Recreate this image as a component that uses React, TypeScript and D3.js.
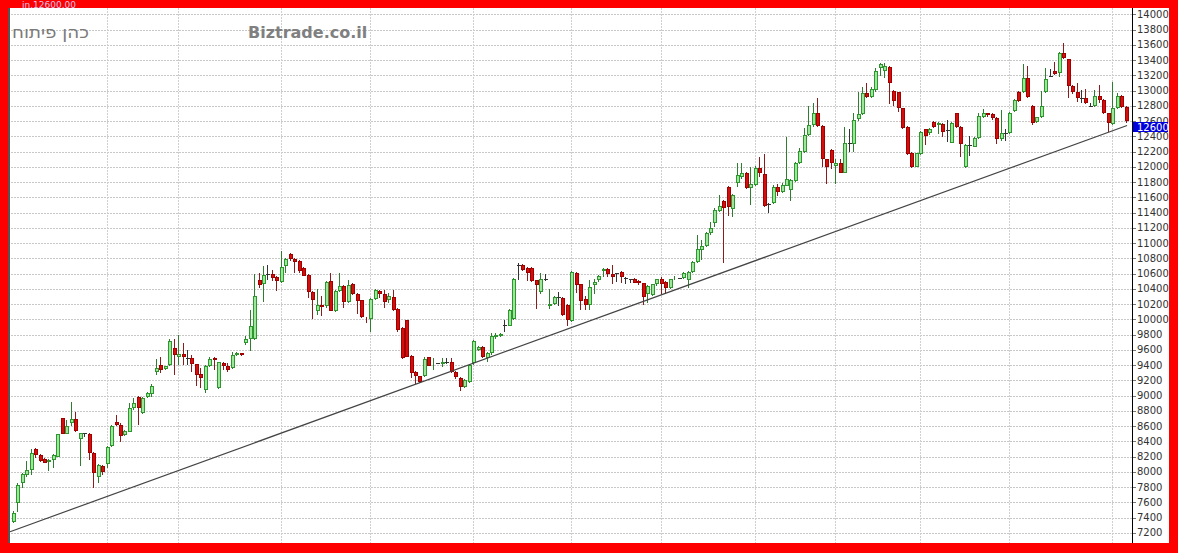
import React from 'react';
import * as d3 from 'd3';

// OHLC values (one candle per trading day)
const openP = [7346,7595,7849,7959,8024,8300,8221,8169,8134,8156,8199,8703,8497,8637,8694,8427,8506,8497,8252,7937,8081,8103,8339,8659,8615,8484,8528,8834,8987,8768,8978,9022,9315,9403,9354,9403,9622,9512,9543,9490,9490,9411,9280,9075,9381,9490,9096,9433,9394,9359,9530,9556,9687,9740,9740,10510,10466,10584,10597,10554,10484,10694,10856,10790,10760,10672,10584,10352,10103,10190,10169,10506,10103,10365,10440,10225,10462,10335,10247,10020,10002,10265,10374,10330,10256,10291,10134,9884,9985,9521,9315,9250,9250,9503,9416,9425,9416,9438,9446,9315,9228,9110,9184,9425,9600,9643,9490,9556,9766,9784,9920,9915,10002,10703,10716,10672,10672,10510,10352,10527,10177,10204,10291,10278,10190,9972,10606,10461,10260,10185,10448,10513,10636,10657,10600,10600,10622,10535,10535,10535,10500,10470,10338,10316,10461,10522,10491,10404,10526,10535,10548,10513,10622,10753,10906,10959,11133,11265,11423,11554,11738,11441,11791,11861,11922,11716,11760,11979,11900,11498,11519,11738,11673,11751,11695,11817,12045,12198,12417,12548,12701,12535,12097,12220,12010,12045,11922,12307,12298,12622,12692,12972,12919,13002,13291,13261,13313,12998,12976,12766,12526,12184,12001,12167,12490,12438,12591,12547,12560,12482,12315,12700,12525,11992,12280,12263,12372,12648,12700,12691,12635,12359,12446,12438,12735,12985,12985,13160,12797,12591,12648,12985,13182,13261,13234,13497,13409,13059,12985,12906,12906,12797,12797,12928,12876,12700,12560,12766,12928,12788];
const highP = [7490,7858,7980,8147,8296,8309,8230,8177,8165,8234,8497,8711,8681,8917,8790,8515,8510,8506,8265,8103,8090,8344,8611,8751,8637,8549,8900,8965,8996,8978,9053,9149,9482,9503,9394,9744,9744,9797,9687,9600,9534,9416,9359,9403,9503,9512,9446,9446,9425,9565,9565,9560,9775,10125,10597,10606,10694,10716,10641,10571,10891,10803,10869,10803,10772,10685,10593,10365,10396,10300,10497,10606,10387,10606,10453,10510,10475,10344,10256,10028,10278,10396,10387,10387,10344,10387,10147,9897,9994,9530,9324,9258,9503,9512,9490,9430,9490,9490,9490,9324,9241,9215,9416,9731,9652,9652,9565,9818,9818,9818,9985,10138,10541,10738,10729,10685,10685,10519,10606,10593,10396,10309,10352,10291,10204,10628,10615,10469,10304,10513,10535,10578,10679,10675,10710,10609,10631,10552,10535,10543,10513,10478,10448,10469,10535,10557,10500,10530,10565,10548,10622,10636,10762,11103,11037,11146,11278,11454,11629,11563,11747,11642,12053,12045,11931,12001,12010,12132,12167,11528,11760,11773,11782,12395,11834,12066,12242,12504,12797,12841,12898,12548,12106,12229,12097,12097,12526,12491,12710,12985,13050,13094,13050,13291,13357,13357,13322,13007,12985,12775,12534,12193,12184,12469,12499,12508,12600,12591,12569,12613,12587,12709,12534,12294,12403,12385,12700,12753,12709,12700,12648,12744,12490,12722,12884,12993,13348,13322,12810,12657,12998,13291,13278,13379,13510,13619,13418,13072,13094,13007,13015,12841,13007,13072,12884,12709,13116,12972,12941,12797];
const lowP = [7333,7477,7784,7928,7959,8177,8134,8112,8011,8046,8190,8493,8493,8606,8528,8081,8462,8156,7784,7858,7959,8055,8331,8602,8396,8471,8519,8812,8615,8760,8965,8987,9271,9302,9337,9381,9271,9403,9403,9403,9315,9131,9096,9031,9372,9337,9088,9337,9315,9350,9521,9525,9665,9586,9731,10409,10221,10519,10497,10365,10475,10606,10760,10606,10606,10562,10278,10002,10059,10046,10147,10103,10094,10357,10147,10212,10322,10072,10015,9950,9840,10256,10278,10147,10212,10103,9840,9477,9503,9228,9153,9162,9241,9381,9337,9410,9372,9416,9302,9215,9066,9096,9162,9403,9578,9490,9442,9534,9740,9766,9840,9906,9994,10510,10628,10497,10484,10134,10335,10497,10134,10190,10169,10046,9906,9959,10344,10119,10120,10128,10338,10491,10557,10557,10461,10491,10470,10461,10470,10470,10448,10185,10216,10303,10435,10338,10338,10391,10513,10522,10522,10404,10609,10740,10775,10950,11111,11216,11410,10733,11353,11336,11729,11834,11703,11497,11747,11870,11476,11397,11511,11616,11660,11742,11554,11804,12036,12185,12404,12526,12517,11992,11773,11966,11773,11913,11913,12198,12198,12604,12679,12897,12897,12985,13190,13160,12823,12797,12722,12490,12158,11983,11992,12158,12285,12416,12504,12429,12385,12320,12307,12504,12132,11983,12141,12254,12359,12635,12648,12613,12298,12342,12342,12429,12722,12854,12972,12897,12547,12569,12635,12972,13173,13204,13173,13409,12898,12954,12854,12832,12823,12779,12779,12841,12691,12460,12547,12753,12775,12578];
const closeP = [7464,7827,7967,8024,8243,8221,8147,8121,8156,8221,8493,8497,8602,8694,8541,8506,8493,8252,7980,8086,7994,8331,8602,8611,8471,8536,8834,8908,8834,8970,9031,9131,9359,9337,9381,9709,9534,9543,9503,9482,9416,9271,9228,9394,9481,9468,9438,9390,9337,9534,9556,9530,9744,9906,10300,10453,10584,10597,10540,10497,10685,10794,10794,10746,10628,10571,10352,10256,10190,10160,10484,10112,10374,10440,10225,10453,10335,10243,10024,10002,10265,10378,10330,10221,10300,10125,9862,9490,9512,9302,9250,9184,9477,9390,9433,9420,9446,9442,9315,9241,9118,9206,9403,9718,9635,9503,9556,9775,9797,9805,9906,10125,10527,10716,10650,10606,10497,10453,10527,10519,10204,10291,10296,10059,9994,10615,10453,10242,10185,10426,10491,10565,10657,10600,10557,10609,10557,10543,10530,10482,10470,10294,10435,10461,10526,10461,10404,10522,10548,10540,10609,10622,10753,10928,10963,11133,11203,11432,11484,11454,11476,11629,11891,11922,11716,11769,11979,11913,11484,11511,11738,11673,11760,11839,11826,12053,12206,12417,12548,12701,12535,12097,11992,12045,12053,11922,12307,12315,12613,12688,12963,12910,13015,13253,13348,13322,13103,12867,12766,12504,12167,11992,12176,12460,12403,12490,12517,12569,12460,12473,12578,12517,12298,12285,12272,12372,12665,12700,12683,12635,12359,12446,12438,12709,12875,12867,13160,12910,12578,12648,12797,13147,13190,13217,13497,13422,13059,12985,12898,12898,12832,12788,12928,12876,12709,12569,12766,12928,12788,12600];

const yTicks = d3.range(7200, 14001, 200);
const monthGridIdx = [21, 37, 60, 80, 103, 125, 145, 166, 184, 203, 223, 246];
const trendStart = { i: -0.6, v: 7214 };
const trendEnd = { i: 249.3, v: 12542 };
const lastPrice = 12600;
const titleHe = 'כהן פיתוח';
const siteName = 'Biztrade.co.il';
const topInfo = 'in.12600.00';

export default function App() {
  const W = 1178, H = 553;
  const n = openP.length;
  const x = d3.scaleLinear().domain([0, n - 1]).range([12.7, 1125.7]);
  const y = d3.scaleLinear().domain([7200, 14000]).range([532.8, 14.3]);
  const plotL = 8, plotR = 1132, plotT = 8, plotB = 543;
  const trendLine = d3.line<{ i: number; v: number }>().x(d => x(d.i)).y(d => y(d.v));

  const candles = d3.range(n).map(i => {
    const o = openP[i], c = closeP[i], h = highP[i], l = lowP[i];
    const cx = Math.round(x(i));
    const doji = Math.abs(c - o) < 15;
    const up = c >= o;
    const wickCol = doji ? '#333' : up ? '#2f7d2f' : '#8a1c1c';
    const top = Math.round(y(Math.max(o, c)));
    const bot = Math.max(top + 1, Math.round(y(Math.min(o, c))));
    return (
      <g key={i}>
        <line x1={cx + 0.5} x2={cx + 0.5} y1={Math.round(y(h))} y2={Math.round(y(l))} stroke={wickCol} strokeWidth={1} />
        {doji ? (
          <line x1={cx - 1} x2={cx + 3} y1={top + 0.5} y2={top + 0.5} stroke="#333" strokeWidth={1} />
        ) : (
          <rect x={cx - 0.5} y={top + 0.5} width={3} height={Math.max(0, bot - top - 1)}
            fill={up ? '#9be89b' : '#d40d0d'} stroke={up ? '#2f962f' : '#a00000'} strokeWidth={1} />
        )}
      </g>
    );
  });

  const ly = Math.round(y(lastPrice));

  return (
    <svg width={W} height={H} style={{ position: 'absolute', left: 0, top: 0 }} shapeRendering="crispEdges">
      <rect x={0} y={0} width={W} height={H} fill="#ff0000" />
      <rect x={plotL} y={plotT} width={1169 - plotL} height={plotB - plotT} fill="#ffffff" />
      {yTicks.map(t => (
        <line key={'h' + t} x1={plotL} x2={plotR} y1={Math.round(y(t)) + 0.5} y2={Math.round(y(t)) + 0.5}
          stroke="#c8c8c8" strokeDasharray="2,1" strokeWidth={1} />
      ))}
      {monthGridIdx.map(i => (
        <line key={'v' + i} x1={Math.round(x(i)) + 0.5} x2={Math.round(x(i)) + 0.5} y1={plotT} y2={plotB}
          stroke="#d0d0d0" strokeDasharray="2,1" strokeWidth={1} />
      ))}
      <line x1={plotL + 1} x2={plotL + 1} y1={plotT} y2={plotB} stroke="#555" strokeWidth={2} />
      <text x={22} y={8} fontFamily="DejaVu Sans" fontSize={9} fill="#d6c2e6">{topInfo}</text>
      <text x={12} y={38} fontFamily="DejaVu Sans" fontSize={17} fill="#7a7a7a"
        textLength={77} lengthAdjust="spacingAndGlyphs">{titleHe}</text>
      <text x={248} y={38} fontFamily="DejaVu Sans" fontWeight="bold" fontSize={16} fill="#808080">{siteName}</text>
      {candles}
      <path d={trendLine([trendStart, trendEnd]) || ''} stroke="#444" strokeWidth={1.2} fill="none" shapeRendering="geometricPrecision" />
      <line x1={plotR + 0.5} x2={plotR + 0.5} y1={plotT} y2={plotB} stroke="#000" strokeWidth={1} />
      {yTicks.map(t => (
        <g key={'t' + t}>
          <line x1={plotR + 1} x2={plotR + 4} y1={Math.round(y(t)) + 0.5} y2={Math.round(y(t)) + 0.5} stroke="#777" />
          <text x={1137} y={y(t)} dy="0.36em" fontFamily="DejaVu Sans" fontSize={10} fill="#333"
            shapeRendering="auto">{t}</text>
        </g>
      ))}
      <rect x={plotR + 1} y={ly + 1} width={35} height={10} fill="#0000dd" />
      <text x={1137} y={ly + 10} fontFamily="DejaVu Sans" fontSize={10} fill="#ffffff">{lastPrice}</text>
    </svg>
  );
}
